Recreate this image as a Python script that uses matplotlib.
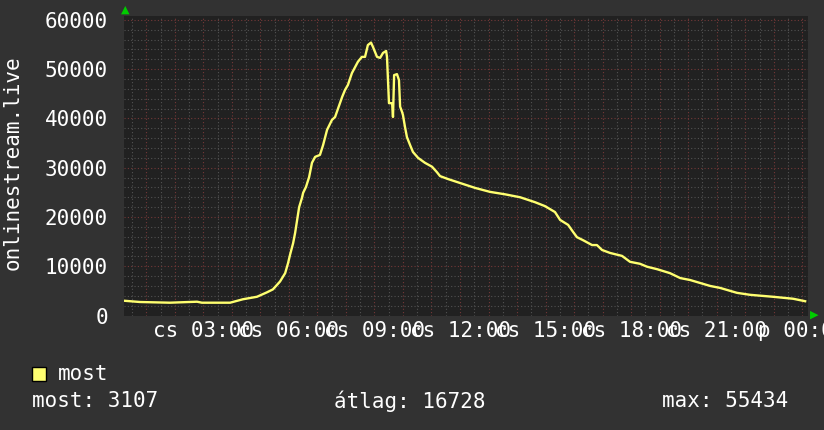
import matplotlib
matplotlib.use("Agg")
import matplotlib.pyplot as plt
import matplotlib.transforms as mtransforms
from matplotlib.patches import Rectangle

# nézők száma (onlinestream.live) az elmúlt 24 órában
hours = [0.22, 0.78, 1.83, 2.78, 2.95, 3.94, 4.39, 4.88, 5.23, 5.44, 5.69,
         5.87, 5.97, 6.04, 6.15, 6.22, 6.29, 6.36, 6.46, 6.50, 6.60, 6.71,
         6.81, 6.92, 7.09, 7.20, 7.34, 7.51, 7.62, 7.87, 7.97, 8.07, 8.21,
         8.42, 8.56, 8.67, 8.77, 8.88, 8.95, 9.09, 9.20, 9.30, 9.41, 9.44,
         9.51, 9.62, 9.65, 9.69, 9.79, 9.86, 9.90, 9.97, 10.00, 10.07,
         10.14, 10.25, 10.35, 10.53, 10.77, 11.02, 11.19, 11.30, 11.58,
         12.00, 12.53, 13.05, 13.58, 14.11, 14.63, 14.98, 15.33, 15.51,
         15.79, 15.96, 16.10, 16.31, 16.63, 16.80, 16.98, 17.26, 17.68,
         17.96, 18.31, 18.56, 18.91, 19.36, 19.72, 20.07, 20.42, 20.77,
         21.12, 21.71, 22.17, 22.98, 23.68, 24.10]
viewers = [3000, 2740, 2600, 2800, 2600, 2600, 3300, 3800, 4700, 5300, 6900,
           8600, 10600, 12300, 14700, 16800, 19400, 22000, 23900, 24900,
           26100, 28100, 31000, 32200, 32600, 34600, 37700, 39700, 40300,
           44400, 45800, 46800, 49200, 51500, 52500, 52500, 54900, 55400,
           54500, 52500, 52300, 53300, 53700, 52500, 43100, 43100, 40300,
           48800, 49000, 47800, 42400, 41300, 40700, 38300, 36200, 34600,
           33200, 32000, 31000, 30200, 29100, 28300, 27700, 26900, 25900,
           25100, 24600, 24000, 23000, 22200, 21000, 19400, 18400, 17000,
           15900, 15300, 14300, 14300, 13300, 12700, 12100, 10900, 10500,
           9900, 9400, 8600, 7600, 7200, 6600, 6000, 5600, 4600, 4200, 3800,
           3400, 2900]

tick_hours = [3, 6, 9, 12, 15, 18, 21, 24]
tick_labels = ["cs 03:00", "cs 06:00", "cs 09:00", "cs 12:00",
               "cs 15:00", "cs 18:00", "cs 21:00", "p 00:00"]
y_ticks = [0, 10000, 20000, 30000, 40000, 50000, 60000]

legend_name = "most"
stats = [("most", 3107), ("átlag", 16728), ("max", 55434)]

W, H = 824, 430
BG = "#323232"
CANVAS = "#212121"
LINE = "#ffff70"
MONO = "DejaVu Sans Mono"

fig = plt.figure(figsize=(W / 100, H / 100), dpi=100, facecolor=BG)
ax = fig.add_axes([124 / W, 1 - 316 / H, 684 / W, 300.5 / H])
ax.set_facecolor(CANVAS)
ax.set_xlim(0.22, 24.20)
ax.set_ylim(-100, 60900)

# rács: szürke mellék-, vörös főrács
for h in range(0, 25):
    ax.axvline(h + 0.5, color="#525252", lw=0.8, ls=(0, (1, 2)), zorder=1)
    ax.axvline(h, color="#743838", lw=0.8, ls=(0, (1, 2)), zorder=1)
for v in range(2000, 61000, 2000):
    c = "#743838" if v % 10000 == 0 else "#525252"
    ax.axhline(v, color=c, lw=0.8, ls=(0, (1, 2)), zorder=1)

ax.plot(hours, viewers, color=LINE, lw=1.7, zorder=3)

for s in ax.spines.values():
    s.set_visible(False)
ax.set_xticks([])
ax.set_yticks(y_ticks)
ax.set_yticklabels([str(v) for v in y_ticks], family=MONO, fontsize=15,
                   color="white")
ax.tick_params(axis="y", length=0, pad=11.5)

# időtengely feliratai (átfednek, mint az eredetin)
tr = mtransforms.blended_transform_factory(ax.transData, fig.transFigure)
for h, lab in zip(tick_hours, tick_labels):
    ax.text(h, 1 - 331 / H, lab, transform=tr, ha="center", va="center",
            family=MONO, fontsize=15, color="white", clip_on=False)

# nyilak
fig.text(125 / W, 1 - 10 / H, "▲", color="#00cc00", fontsize=8,
         ha="center", va="center")
fig.text(814 / W, 1 - 315 / H, "▶", color="#00cc00", fontsize=8,
         ha="center", va="center")

fig.text(13 / W, 1 - 163 / H, "onlinestream.live", rotation=90,
         family=MONO, fontsize=15, color="white", ha="center", va="center")

# jelmagyarázat
fig.patches.append(Rectangle((32 / W, 1 - 381 / H), 14 / W, 14 / H,
                             transform=fig.transFigure, facecolor=LINE,
                             edgecolor="black", lw=1))
fig.text(58 / W, 1 - 374 / H, legend_name, family=MONO, fontsize=15,
         color="white", va="center")
for x, (name, val) in zip([32, 334, 662], stats):
    fig.text(x / W, 1 - 401 / H, f"{name}: {val}", family=MONO, fontsize=15,
             color="white", va="center")

fig.savefig("out.png", dpi=100, facecolor=BG)
